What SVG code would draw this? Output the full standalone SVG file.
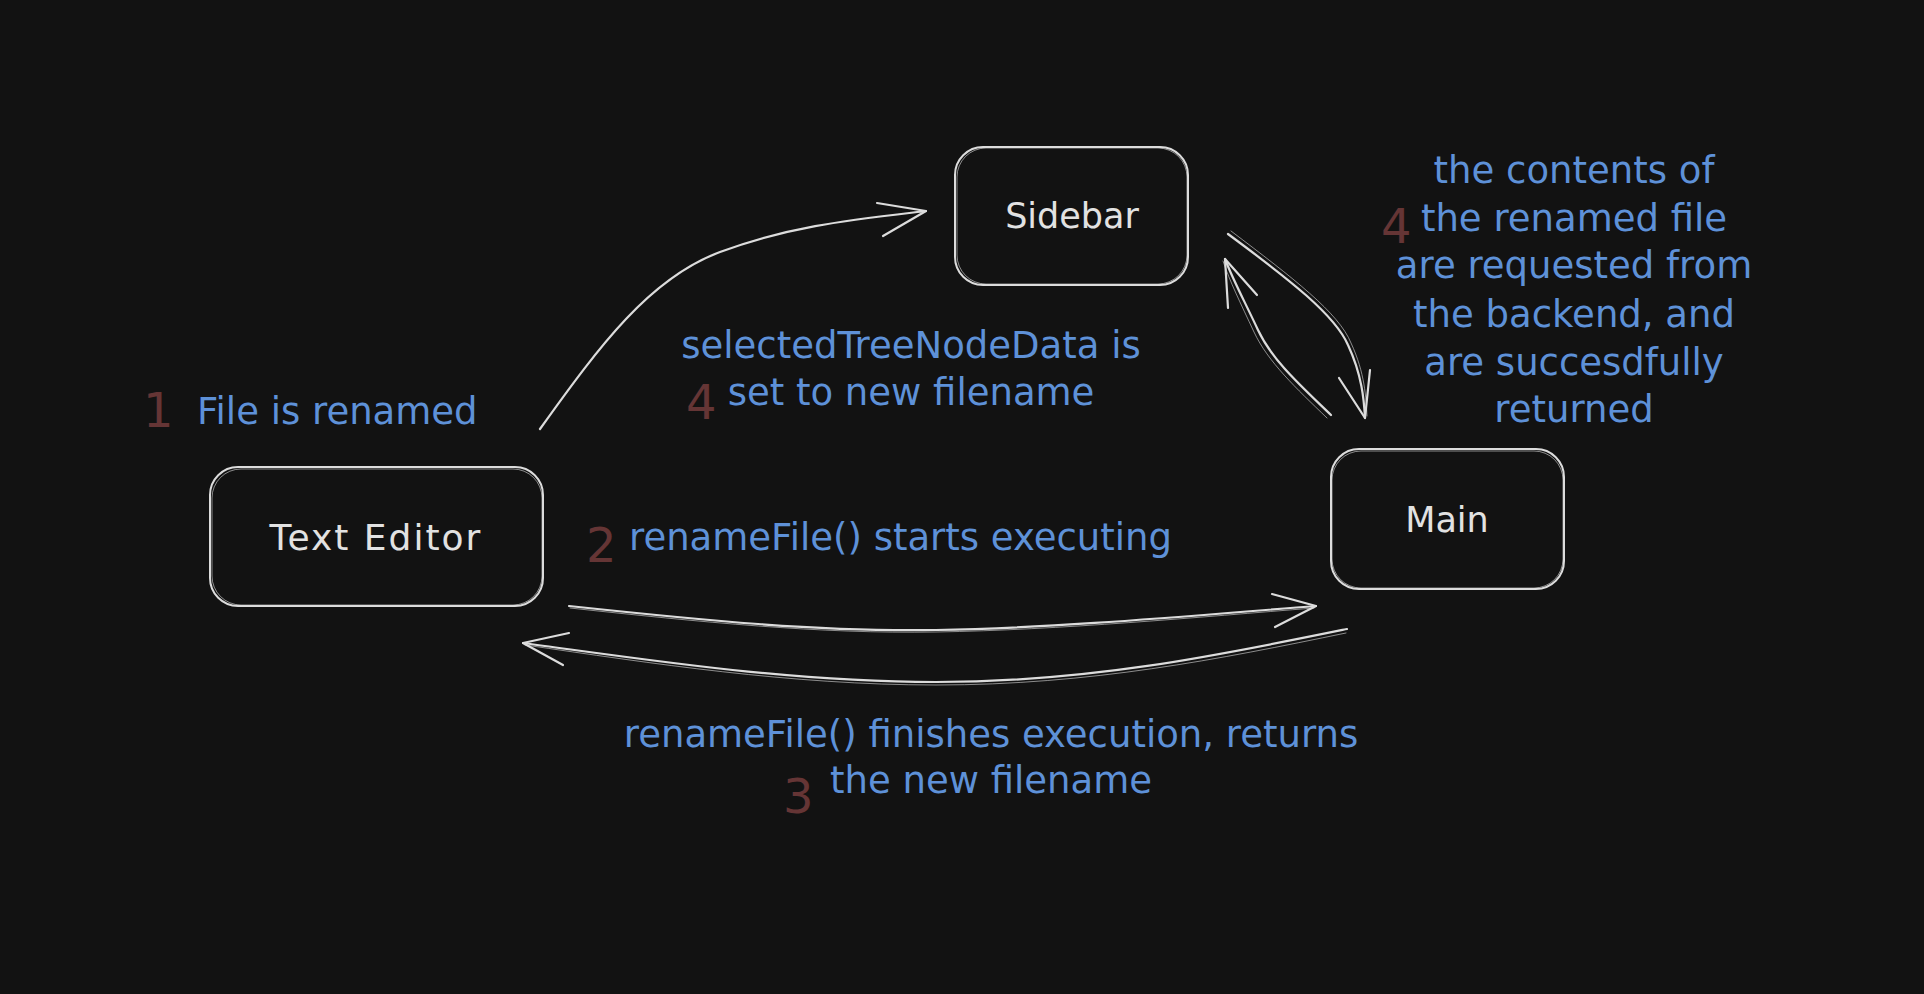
<svg xmlns="http://www.w3.org/2000/svg" width="1924" height="994" viewBox="0 0 1924 994">
<style>
.bg{fill:#121212}
.box{fill:none;stroke:#dcdcdc;stroke-width:2;stroke-linejoin:round}
.box2{fill:none;stroke:#dcdcdc;stroke-width:1;opacity:0.6}
.ln{fill:none;stroke:#dcdcdc;stroke-width:2.2;stroke-linecap:round;stroke-linejoin:round}
.ln2{fill:none;stroke:#dcdcdc;stroke-width:1;stroke-linecap:round;opacity:0.6}
.nt{font-family:"DejaVu Sans","Liberation Sans",sans-serif;font-size:35px;fill:#e2e2e2;text-anchor:middle}
.bl{font-family:"DejaVu Sans","Liberation Sans",sans-serif;font-size:37px;fill:#5e91d8}
.num{font-family:"DejaVu Sans","Liberation Sans",sans-serif;font-size:48px;fill:#653535}
</style>
<rect class="bg" x="0" y="0" width="1924" height="994"/>

<g id="connectors">
  <!-- Text Editor -> Sidebar -->
  <g id="edge-editor-sidebar">
    <path class="ln" d="M540,429 C600,345 650,278 720,252 C790,226 850,220 926,211"/>
    <path class="ln" d="M877,203 L926,211 L883,236"/>
  </g>
  <!-- Sidebar -> Main -->
  <g id="edge-sidebar-main">
    <path class="ln" d="M1228,234 C1290,280 1335,315 1348,345 C1362,375 1364,400 1365,418"/>
    <path class="ln2" d="M1231,231 C1293,278 1339,313 1351,343 C1365,373 1366,398 1367,416"/>
    <path class="ln" d="M1339,378 L1365,418 L1370,370"/>
  </g>
  <!-- Main -> Sidebar -->
  <g id="edge-main-sidebar">
    <path class="ln" d="M1331,415 C1300,385 1272,360 1258,330 C1244,300 1233,280 1225,259"/>
    <path class="ln2" d="M1327,418 C1296,388 1268,362 1254,332 C1240,302 1230,282 1223,261"/>
    <path class="ln" d="M1228,308 L1225,259 L1257,295"/>
  </g>
  <!-- Text Editor -> Main -->
  <g id="edge-editor-main">
    <path class="ln" d="M569,606 C700,620 820,632 936,630 C1060,628 1200,615 1316,606"/>
    <path class="ln2" d="M570,608 C700,622 820,634 936,632 C1060,630 1200,617 1314,608"/>
    <path class="ln" d="M1272,594 L1316,606 L1275,627"/>
  </g>
  <!-- Main -> Text Editor -->
  <g id="edge-main-editor">
    <path class="ln" d="M1347,629 C1220,655 1090,682 936,682 C790,682 650,660 523,643"/>
    <path class="ln2" d="M1346,633 C1220,659 1090,685 936,685 C790,685 650,663 525,645"/>
    <path class="ln" d="M569,633 L523,643 L563,665"/>
  </g>
</g>

<g id="node-text-editor">
  <rect class="box" x="210" y="467" width="333" height="139" rx="28"/>
  <rect class="box2" x="212" y="469" width="330" height="136" rx="29"/>
  <text class="nt" x="376" y="550" style="font-size:36px;letter-spacing:2px">Text Editor</text>
</g>

<g id="node-sidebar">
  <rect class="box" x="955" y="147" width="233" height="138" rx="28"/>
  <rect class="box2" x="957" y="148" width="230" height="136" rx="29"/>
  <text class="nt" x="1072" y="228">Sidebar</text>
</g>

<g id="node-main">
  <rect class="box" x="1331" y="449" width="233" height="140" rx="28"/>
  <rect class="box2" x="1332" y="451" width="231" height="137" rx="29"/>
  <text class="nt" x="1447" y="532">Main</text>
</g>

<g id="label-1">
  <text class="num" x="143" y="427">1</text>
  <text class="bl" x="197" y="424">File is renamed</text>
</g>

<g id="label-2">
  <text class="num" x="586" y="562">2</text>
  <text class="bl" x="629" y="550">renameFile() starts executing</text>
</g>

<g id="label-4a">
  <text class="num" x="686" y="419">4</text>
  <text class="bl" x="911" y="358" text-anchor="middle">selectedTreeNodeData is</text>
  <text class="bl" x="911" y="405" text-anchor="middle">set to new filename</text>
</g>

<g id="label-4b">
  <text class="num" x="1381" y="243">4</text>
  <text class="bl" x="1574" y="183" text-anchor="middle">the contents of</text>
  <text class="bl" x="1574" y="231" text-anchor="middle">the renamed file</text>
  <text class="bl" x="1574" y="278" text-anchor="middle">are requested from</text>
  <text class="bl" x="1574" y="327" text-anchor="middle">the backend, and</text>
  <text class="bl" x="1574" y="375" text-anchor="middle">are succesdfully</text>
  <text class="bl" x="1574" y="422" text-anchor="middle">returned</text>
</g>

<g id="label-3">
  <text class="num" x="783" y="813">3</text>
  <text class="bl" x="991" y="747" text-anchor="middle">renameFile() finishes execution, returns</text>
  <text class="bl" x="991" y="793" text-anchor="middle">the new filename</text>
</g>
</svg>
